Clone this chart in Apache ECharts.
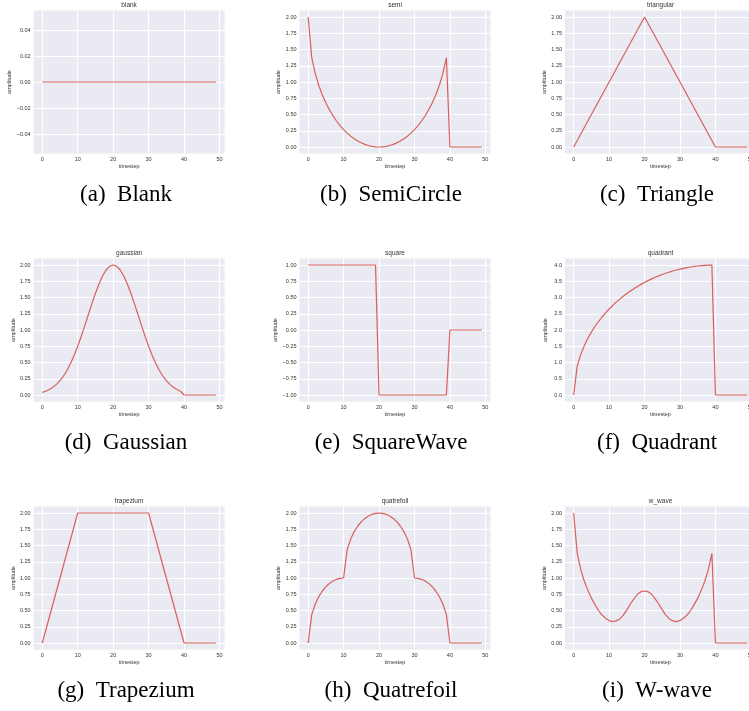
<!DOCTYPE html>
<html>
<head>
<meta charset="utf-8">
<script src="https://cdn.jsdelivr.net/npm/echarts@6/dist/echarts.min.js"></script>
<style>
html,body{margin:0;padding:0;background:#fff;}
#main{width:749px;height:711px;}
</style>
</head>
<body>
<div id="main"></div>
<script>
// timesteps 0..49
var steps = [0,1,2,3,4,5,6,7,8,9,10,11,12,13,14,15,16,17,18,19,20,21,22,23,24,25,26,27,28,29,
             30,31,32,33,34,35,36,37,38,39,40,41,42,43,44,45,46,47,48,49];

var blank = [0,0,0,0,0,0,0,0,0,0,0,0,0,0,0,0,0,0,0,0,0,0,0,0,0,0,0,0,0,0,
             0,0,0,0,0,0,0,0,0,0,0,0,0,0,0,0,0,0,0,0];
var semi = [2.000,1.376,1.128,0.946,0.800,0.677,0.572,0.480,0.400,0.330,0.268,0.214,0.167,0.127,0.092,
            0.064,0.040,0.023,0.010,0.003,0.000,0.003,0.010,0.023,0.040,0.064,0.092,0.127,0.167,0.214,
            0.268,0.330,0.400,0.480,0.572,0.677,0.800,0.946,1.128,1.376,0,0,0,0,0,0,0,0,0,0];
var triangular = [0.0,0.1,0.2,0.3,0.4,0.5,0.6,0.7,0.8,0.9,1.0,1.1,1.2,1.3,1.4,1.5,1.6,1.7,1.8,1.9,
                  2.0,1.9,1.8,1.7,1.6,1.5,1.4,1.3,1.2,1.1,1.0,0.9,0.8,0.7,0.6,0.5,0.4,0.3,0.2,0.1,
                  0.0,0,0,0,0,0,0,0,0,0];
var gaussian = [0.040,0.058,0.084,0.118,0.163,0.220,0.293,0.381,0.487,0.611,0.751,0.904,1.068,1.238,1.405,
                1.565,1.709,1.831,1.923,1.980,2.000,1.980,1.923,1.831,1.709,1.565,1.405,1.238,1.068,0.904,
                0.751,0.611,0.487,0.381,0.293,0.220,0.163,0.118,0.084,0.058,0,0,0,0,0,0,0,0,0,0];
var square = [1,1,1,1,1,1,1,1,1,1,1,1,1,1,1,1,1,1,1,1,
              -1,-1,-1,-1,-1,-1,-1,-1,-1,-1,-1,-1,-1,-1,-1,-1,-1,-1,-1,-1,
              0,0,0,0,0,0,0,0,0,0];
var quadrant = [0.000,0.889,1.249,1.520,1.744,1.936,2.107,2.261,2.400,2.528,2.646,2.755,2.857,2.951,3.040,
                3.122,3.200,3.273,3.341,3.404,3.464,3.520,3.572,3.621,3.666,3.708,3.747,3.783,3.816,3.846,
                3.873,3.897,3.919,3.938,3.955,3.969,3.980,3.989,3.995,3.999,0,0,0,0,0,0,0,0,0,0];
var trapezium = [0.0,0.2,0.4,0.6,0.8,1.0,1.2,1.4,1.6,1.8,2.0,2.0,2.0,2.0,2.0,2.0,2.0,2.0,2.0,2.0,
                 2.0,2.0,2.0,2.0,2.0,2.0,2.0,2.0,2.0,2.0,2.0,1.8,1.6,1.4,1.2,1.0,0.8,0.6,0.4,0.2,
                 0.0,0,0,0,0,0,0,0,0,0];
var quatrefoil = [0.000,0.436,0.600,0.714,0.800,0.866,0.917,0.954,0.980,0.995,1.000,1.436,1.600,1.714,1.800,
                  1.866,1.917,1.954,1.980,1.995,2.000,1.995,1.980,1.954,1.917,1.866,1.800,1.714,1.600,1.436,
                  1.000,0.995,0.980,0.954,0.917,0.866,0.800,0.714,0.600,0.436,0,0,0,0,0,0,0,0,0,0];
var wWave = [2.00,1.38,1.13,0.95,0.81,0.69,0.59,0.50,0.43,0.38,0.345,0.33,0.34,0.37,0.43,
             0.51,0.60,0.68,0.75,0.79,0.80,0.79,0.75,0.68,0.60,0.51,0.43,0.37,0.34,0.33,
             0.345,0.38,0.43,0.50,0.59,0.69,0.81,0.95,1.13,1.38,0,0,0,0,0,0,0,0,0,0];

// tick labels
var xTicks = [0,10,20,30,40,50];
var blankTicks = [-0.04,-0.02,0,0.02,0.04];
var ampTicks = [0,0.25,0.5,0.75,1,1.25,1.5,1.75,2];
var squareTicks = [-1,-0.75,-0.5,-0.25,0,0.25,0.5,0.75,1];
var quadTicks = [0,0.5,1,1.5,2,2.5,3,3.5,4];

var titles = ['blank','semi','triangular','gaussian','square','quadrant','trapezium','quatrefoil','w_wave'];
var captions = ['(a)  Blank','(b)  SemiCircle','(c)  Triangle','(d)  Gaussian','(e)  SquareWave',
                '(f)  Quadrant','(g)  Trapezium','(h)  Quatrefoil','(i)  W-wave'];

var panels = [
    {data: blank, ticks: blankTicks, min: -0.055, max: 0.055, dec: 2},
    {data: semi, ticks: ampTicks, min: -0.1, max: 2.1, dec: 2},
    {data: triangular, ticks: ampTicks, min: -0.1, max: 2.1, dec: 2},
    {data: gaussian, ticks: ampTicks, min: -0.1, max: 2.1, dec: 2},
    {data: square, ticks: squareTicks, min: -1.1, max: 1.1, dec: 2},
    {data: quadrant, ticks: quadTicks, min: -0.2, max: 4.2, dec: 1},
    {data: trapezium, ticks: ampTicks, min: -0.1, max: 2.1, dec: 2},
    {data: quatrefoil, ticks: ampTicks, min: -0.1, max: 2.1, dec: 2},
    {data: wWave, ticks: ampTicks, min: -0.1, max: 2.1, dec: 2}
];

var colLeft = [33.6, 299.5, 565];
var rowTop = [10.5, 258.5, 506.5];
var plotW = 191, plotH = 143;
var capX = [126, 391, 657];
var capY = [195, 443, 691];
var sans = 'Liberation Sans';
var txt = '#333';
var red = '#d9605f';

var chart = echarts.init(document.getElementById('main'));

var grids = [], xAxes = [], yAxes = [], series = [], graphics = [];

panels.forEach(function (p, i) {
    var r = Math.floor(i / 3), c = i % 3;
    var left = colLeft[c], top = rowTop[r];
    // third column runs past the right edge of the canvas, as in the reference
    grids.push({
        left: left, width: plotW, top: top, height: plotH,
        outerBoundsMode: 'none',
        show: true, backgroundColor: '#EAEAF2', borderWidth: 0
    });
    xAxes.push({
        gridIndex: i, type: 'value', min: -2.45, max: 51.45,
        name: 'timestep', nameLocation: 'middle', nameGap: 10,
        nameTextStyle: {fontSize: 5.5, color: txt, fontFamily: sans},
        axisLine: {show: false, onZero: false},
        axisTick: {show: false, customValues: xTicks},
        axisLabel: {customValues: xTicks, fontSize: 5.5, color: txt, fontFamily: sans, margin: 3},
        splitLine: {show: true, lineStyle: {color: '#fff', width: 1}}
    });
    yAxes.push({
        gridIndex: i, type: 'value', min: p.min, max: p.max,
        name: 'amplitude', nameLocation: 'middle', nameGap: p.dec === 2 && p.min < -0.5 ? 20 : 17,
        nameTextStyle: {fontSize: 5.5, color: txt, fontFamily: sans},
        axisLine: {show: false},
        axisTick: {show: false, customValues: p.ticks},
        axisLabel: {
            customValues: p.ticks, fontSize: 5.5, color: txt, fontFamily: sans, margin: 3,
            formatter: (function (d) {
                return function (v) { return v.toFixed(d).replace('-', '\u2212'); };
            })(p.dec)
        },
        splitLine: {show: true, lineStyle: {color: '#fff', width: 1}}
    });
    series.push({
        type: 'line', xAxisIndex: i, yAxisIndex: i,
        data: steps.map(function (s, k) { return [s, p.data[k]]; }),
        showSymbol: false,
        lineStyle: {color: red, width: 1.2}
    });
    graphics.push({
        type: 'text', x: left + plotW / 2, y: top - 5.5,
        style: {text: titles[i], fontSize: 6.5, fontFamily: sans, fill: txt, align: 'center', verticalAlign: 'middle'}
    });
    graphics.push({
        type: 'text', x: capX[c], y: capY[r],
        style: {text: captions[i], fontSize: 23, fontFamily: 'Liberation Serif', fill: '#000', align: 'center', verticalAlign: 'middle'}
    });
});

var option = {
    backgroundColor: '#fff',
    animation: false,
    grid: grids,
    xAxis: xAxes,
    yAxis: yAxes,
    series: series,
    graphic: graphics
};
chart.setOption(option);
</script>
</body>
</html>
